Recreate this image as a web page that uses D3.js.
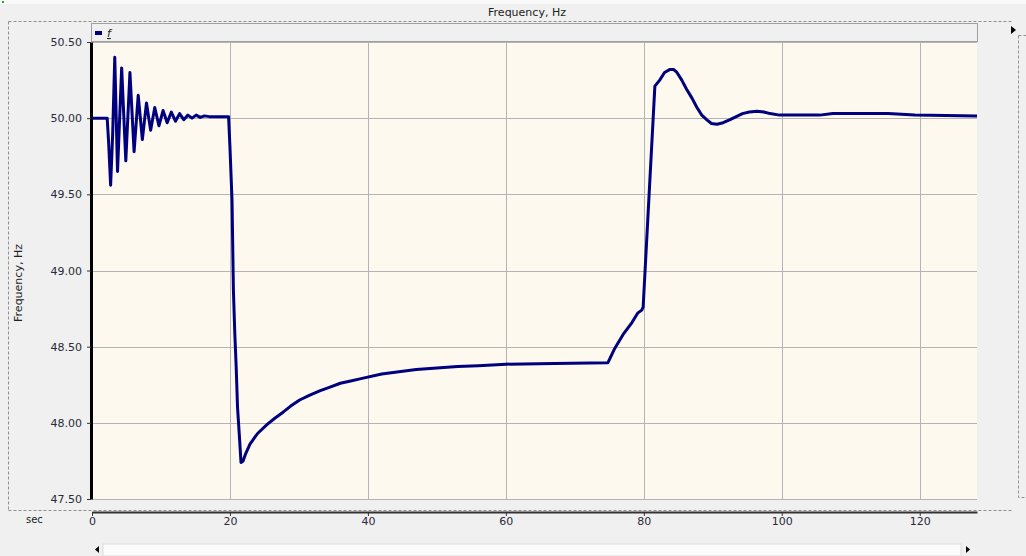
<!DOCTYPE html>
<html><head><meta charset="utf-8">
<script src="https://cdn.jsdelivr.net/npm/d3@7"></script>
<style>
html,body{margin:0;padding:0;background:#f0f0f0;}
svg{display:block;}
text{font-family:"DejaVu Sans",sans-serif;}
</style></head>
<body>
<script>
const chartTitle = "Frequency, Hz";
const yLabel = "Frequency, Hz";
const xUnit = "sec";
const seriesName = "f";
const xTicks = [0, 20, 40, 60, 80, 100, 120];
const yTicks = [47.5, 48.0, 48.5, 49.0, 49.5, 50.0, 50.5];
const timeSec = [0, 2.2, 2.4, 2.7, 3.0, 3.3, 3.7, 4.3, 4.9, 5.5, 6.1, 6.7, 7.3, 7.9, 8.5, 9.1, 9.7, 10.3, 10.9, 11.5, 12.1, 12.7, 13.3, 13.9, 14.5, 15.1, 15.7, 16.3, 17.0, 19.8,
  20.0, 20.3, 20.5, 20.7, 20.9, 21.1, 21.4, 21.6, 21.9, 22.3, 22.9, 24.0, 25.4, 26.5, 27.7, 28.8, 30.1, 31.5, 33.0, 34.5, 36.0, 37.5, 39.0, 42.0, 44.5, 47.0, 50.0, 53.0, 56.0, 60.0, 67.0, 74.8,
  75.8, 77.0, 78.3, 79.1, 79.7, 79.9, 81.6, 82.3, 83.0, 83.8, 84.3, 84.8, 85.5, 86.2, 87.0, 87.7, 88.4, 89.1, 89.8, 90.6, 91.5, 92.5, 93.4, 94.3, 95.3, 96.4, 97.4, 98.3, 99.7, 105.5, 107.4, 115.4, 119.3, 128.3];
const freqHz = [50.0, 50.0, 49.85, 49.56, 49.9, 50.40, 49.65, 50.33, 49.72, 50.30, 49.78, 50.15, 49.86, 50.10, 49.92, 50.07, 49.95, 50.05, 49.97, 50.04, 49.98, 50.03, 49.99, 50.02, 50.0, 50.02, 50.005, 50.015, 50.01, 50.01,
  49.81, 49.46, 48.87, 48.59, 48.37, 48.10, 47.89, 47.74, 47.75, 47.80, 47.86, 47.93, 47.99, 48.03, 48.07, 48.11, 48.15, 48.18, 48.21, 48.235, 48.26, 48.275, 48.29, 48.32, 48.335, 48.35, 48.36, 48.37, 48.375, 48.385, 48.39, 48.395,
  48.49, 48.58, 48.66, 48.72, 48.74, 48.76, 50.21, 50.25, 50.30, 50.32, 50.32, 50.30, 50.25, 50.19, 50.13, 50.07, 50.02, 49.99, 49.965, 49.96, 49.97, 49.99, 50.01, 50.03, 50.04, 50.045, 50.04, 50.03, 50.02, 50.02, 50.03, 50.03, 50.02, 50.015];

const W = 1026, H = 556;
const plot = {left: 92, right: 977, top: 42, bottom: 499};
const svg = d3.select("body").append("svg").attr("width", W).attr("height", H);

svg.append("rect").attr("width", W).attr("height", H).attr("fill", "#f0f0f0");
svg.append("rect").attr("x", 0).attr("y", 0).attr("width", W).attr("height", 4).attr("fill", "#fafafa");
svg.append("rect").attr("x", 2).attr("y", 1).attr("width", 2).attr("height", 2).attr("fill", "#2aa02a");

// title
svg.append("text").attr("x", 527).attr("y", 16).attr("text-anchor", "middle")
  .attr("font-size", 11).attr("fill", "#222").text(chartTitle);

// dashed frames
const dash = "3,2";
svg.append("path").attr("d", "M8.5,21.5H1013.5M8.5,21.5V510.5M8.5,510.5H1013.5")
  .attr("fill", "none").attr("stroke", "#909090").attr("stroke-dasharray", dash);
svg.append("path").attr("d", "M1018.5,35.5V497.5H1026M1018.5,35.5H1026")
  .attr("fill", "none").attr("stroke", "#909090").attr("stroke-dasharray", dash);
svg.append("path").attr("d", "M1011,26L1016,30L1011,34Z").attr("fill", "#000");

const x = d3.scaleLinear().domain([0, 128.3]).range([plot.left, plot.right]);
const y = d3.scaleLinear().domain([47.5, 50.5]).range([plot.bottom, plot.top]);

// legend bar
svg.append("rect").attr("x", plot.left - 0.5).attr("y", 23.5).attr("width", plot.right - plot.left + 1).attr("height", 18)
  .attr("fill", "#f0f0f0").attr("stroke", "#a0a0a0");
svg.append("rect").attr("x", 95).attr("y", 31).attr("width", 7).attr("height", 4).attr("fill", "#00007f");
svg.append("text").attr("x", 107).attr("y", 37).attr("font-size", 11).attr("font-style", "italic")
  .attr("text-decoration", "underline").attr("fill", "#222").text(seriesName);

// plot background
svg.append("rect").attr("x", plot.left).attr("y", plot.top).attr("width", plot.right - plot.left).attr("height", plot.bottom - plot.top)
  .attr("fill", "#fdf9ef");

// grid
svg.append("g").selectAll("line").data(xTicks.filter(d => d > 0)).join("line")
  .attr("x1", d => Math.round(x(d)) + 0.5).attr("x2", d => Math.round(x(d)) + 0.5)
  .attr("y1", plot.top).attr("y2", plot.bottom).attr("stroke", "#b4b4b4");
svg.append("g").selectAll("line").data(yTicks).join("line")
  .attr("x1", plot.left).attr("x2", plot.right)
  .attr("y1", d => Math.round(y(d)) + 0.5).attr("y2", d => Math.round(y(d)) + 0.5).attr("stroke", "#b4b4b4");

// y axis
const yAxis = svg.append("g").attr("transform", `translate(${plot.left - 1},0)`)
  .call(d3.axisLeft(y).tickValues(yTicks).tickFormat(d3.format(".2f")).tickSize(4).tickSizeOuter(0));
yAxis.select(".domain").attr("stroke", "#000").attr("stroke-width", 3);
yAxis.selectAll(".tick line").attr("stroke", "#333");
yAxis.selectAll("text").attr("font-size", 11).attr("fill", "#2a2a3a").attr("font-family", "DejaVu Sans, sans-serif").attr("x", -9);

svg.append("text").attr("transform", "translate(22,283) rotate(-90)").attr("text-anchor", "middle")
  .attr("font-size", 11).attr("fill", "#222").text(yLabel);

// x axis
const xAxis = svg.append("g").attr("transform", "translate(0,512)")
  .call(d3.axisBottom(x).tickValues(xTicks).tickFormat(d3.format("d")).tickSize(4).tickSizeOuter(0));
xAxis.select(".domain").attr("stroke", "#333").attr("stroke-width", 2);
xAxis.selectAll(".tick line").attr("stroke", "#333");
xAxis.selectAll("text").attr("font-size", 11).attr("fill", "#2a2a3a").attr("font-family", "DejaVu Sans, sans-serif").attr("dy", "0.5em");
svg.append("text").attr("x", 26).attr("y", 523).attr("font-size", 10).attr("fill", "#222").text(xUnit);

// series line
const pts = timeSec.map((t, i) => [t, freqHz[i]]);
svg.append("path").datum(pts)
  .attr("d", d3.line().x(d => x(d[0])).y(d => y(d[1])))
  .attr("fill", "none").attr("stroke", "#00007f").attr("stroke-width", 3).attr("stroke-linejoin", "round");

// scrollbar
svg.append("rect").attr("x", 103).attr("y", 544).attr("width", 858).attr("height", 12).attr("fill", "#fbfbfb").attr("stroke", "#dcdcdc");
svg.append("path").attr("d", "M99,546L95,549.5L99,553Z").attr("fill", "#000");
svg.append("path").attr("d", "M966,546L970,549.5L966,553Z").attr("fill", "#000");
</script>
</body></html>
